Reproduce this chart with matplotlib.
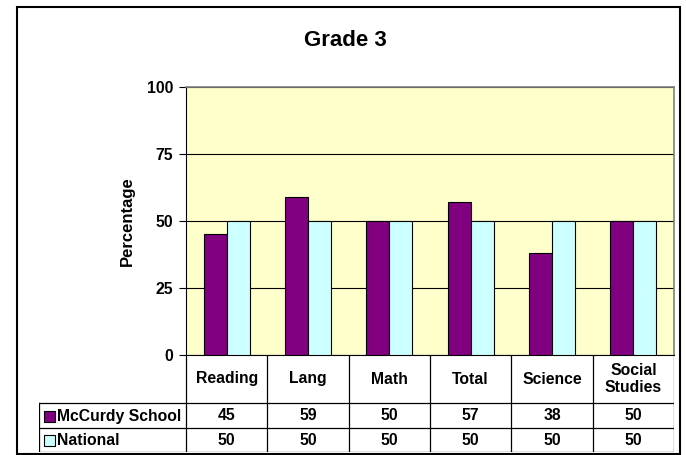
import matplotlib.pyplot as plt
from matplotlib.patches import Rectangle
import numpy as np

plt.rcParams['font.family'] = ['Liberation Sans', 'DejaVu Sans']

categories = ['Reading', 'Lang', 'Math', 'Total', 'Science', 'Social\nStudies']
school = [45, 59, 50, 57, 38, 50]
national = [50, 50, 50, 50, 50, 50]
series_names = ['McCurdy School', 'National']
yticks = [0, 25, 50, 75, 100]

purple = '#800080'
cyan = '#CCFFFF'
W, H = 686, 455
fs = 11.3

fig = plt.figure(figsize=(6.86, 4.55), dpi=100)

def px(x0, y0, x1, y1):
    return [x0 / W, 1 - y1 / H, (x1 - x0) / W, (y1 - y0) / H]

# outer chart border
fig.patches.append(Rectangle((17 / W, 1 - 454 / H), 663 / W, 447 / H,
                             transform=fig.transFigure, fill=False,
                             edgecolor='black', linewidth=1.5))

fig.text(345 / W, 1 - 40 / H, 'Grade 3', ha='center', va='center',
         fontsize=16, fontweight='bold')

ax = fig.add_axes(px(186, 87, 674, 355))
ax.set_facecolor('#FFFFCC')
x = np.arange(len(categories)) + 0.5
bw = 0.283
ax.bar(x - bw / 2, school, bw, color=purple, edgecolor='black', linewidth=0.8, zorder=3)
ax.bar(x + bw / 2, national, bw, color=cyan, edgecolor='black', linewidth=0.8, zorder=3)
ax.set_xlim(0, len(categories))
ax.set_ylim(0, 100)
ax.set_yticks(yticks)
ax.set_yticklabels([str(t) for t in yticks], fontsize=fs, fontweight='bold')
ax.set_xticks([])
ax.yaxis.grid(True, color='black', linewidth=0.8, zorder=0)
ax.set_axisbelow(True)
ax.tick_params(axis='y', length=5, width=0.8, pad=4)
ax.spines['top'].set_color('#808080')
ax.spines['right'].set_color('#808080')
ax.spines['top'].set_linewidth(1.2)
ax.spines['right'].set_linewidth(1.2)
ax.spines['left'].set_linewidth(0.8)
ax.spines['bottom'].set_linewidth(0.8)
ax.set_ylabel('Percentage', fontsize=12, fontweight='bold', labelpad=9)

# data table below the plot
left = -(186 - 39) / 81.33
tab = fig.add_axes(px(39, 355, 674, 452))
tab.set_xlim(left, len(categories))
tab.set_ylim(97, 0)
tab.axis('off')
lw = 0.9
for i in range(len(categories) + 1):
    tab.plot([i, i], [0, 97], color='black', linewidth=lw)
tab.plot([left, left], [48, 97], color='black', linewidth=lw)
for yy in [48, 73, 97]:
    tab.plot([left, len(categories)], [yy, yy], color='black', linewidth=lw)

for i, c in enumerate(categories):
    tab.text(i + 0.5, 24, c, ha='center', va='center', fontsize=fs,
             fontweight='bold', linespacing=1.1)
    tab.text(i + 0.5, 61, str(school[i]), ha='center', va='center',
             fontsize=fs, fontweight='bold')
    tab.text(i + 0.5, 85.5, str(national[i]), ha='center', va='center',
             fontsize=fs, fontweight='bold')

for row_y, name, col in [(61, series_names[0], purple), (85.5, series_names[1], cyan)]:
    tab.add_patch(Rectangle((left + 5 / 81.33, row_y - 5.5), 11 / 81.33, 11,
                            facecolor=col, edgecolor='black', linewidth=0.8))
    tab.text(left + 18 / 81.33, row_y, name, ha='left', va='center',
             fontsize=fs, fontweight='bold')

fig.savefig('out.png', dpi=100)
